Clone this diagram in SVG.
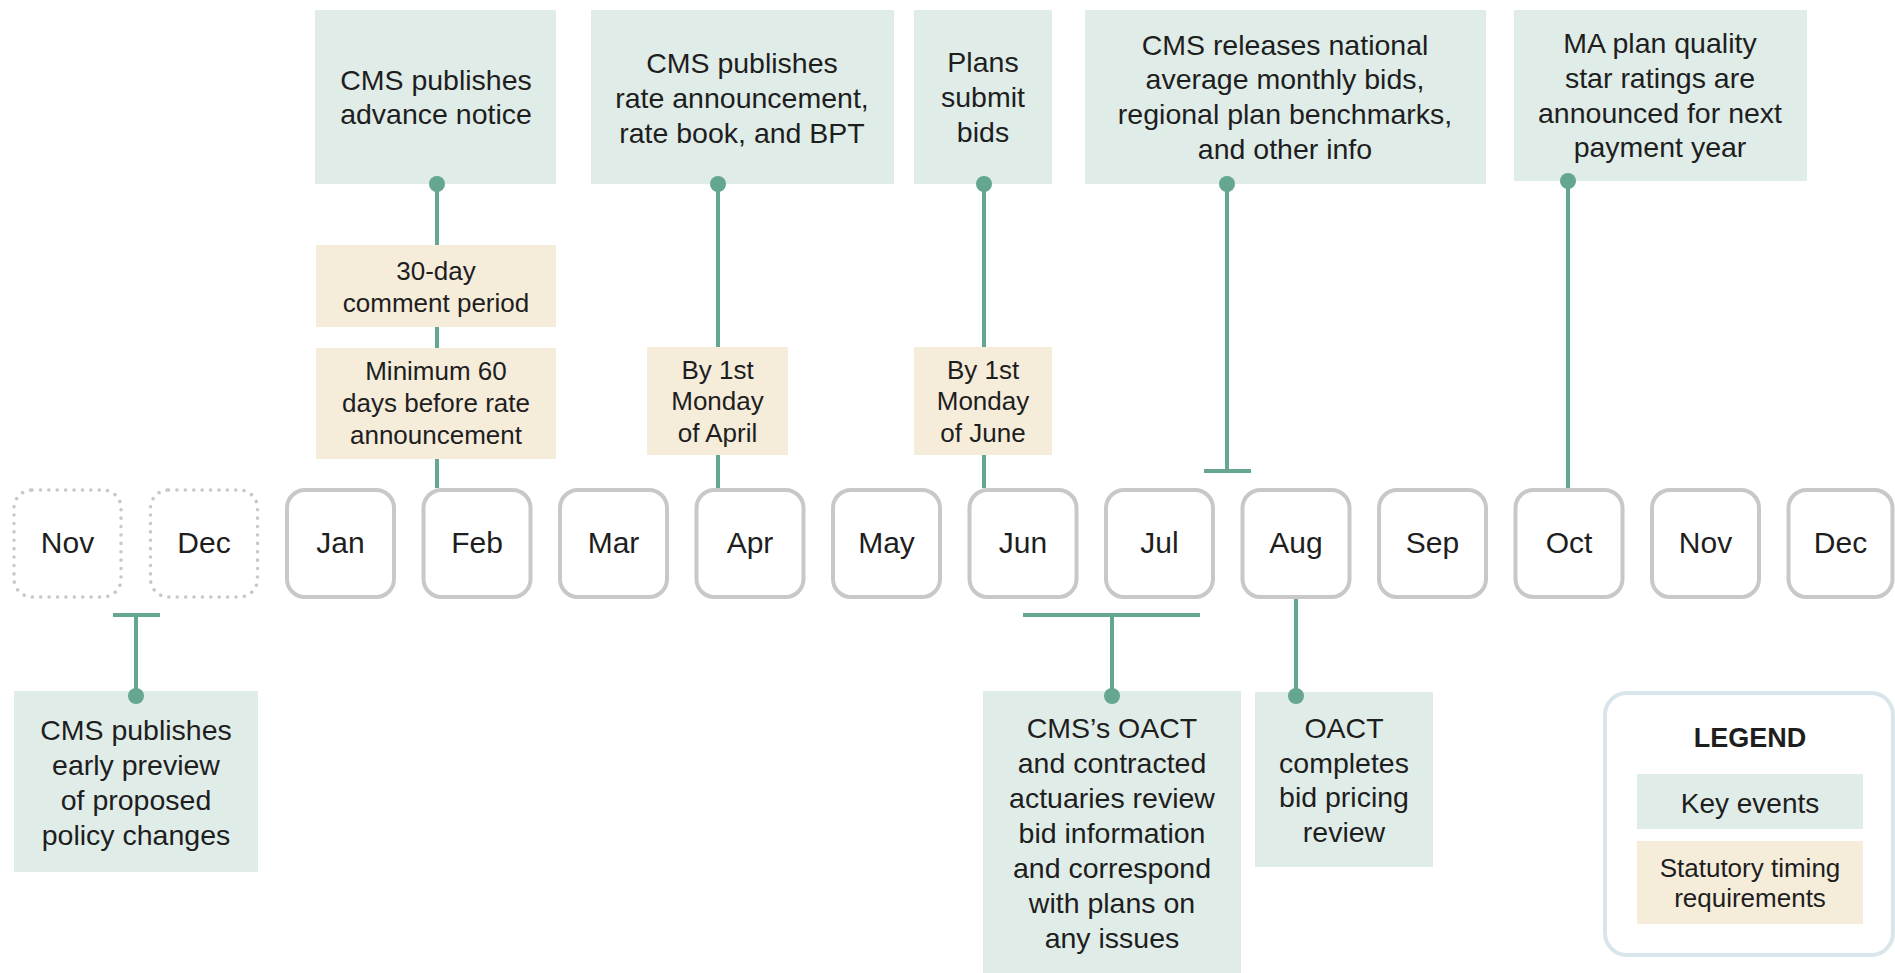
<svg xmlns="http://www.w3.org/2000/svg" width="1895" height="973" viewBox="0 0 1895 973">
<style>
text{font-family:"Liberation Sans",Arial,sans-serif;fill:#1e1e1e;text-anchor:middle}
.key{fill:#e0ece7}
.tan{fill:#f5ecda}
.kt{font-size:28.5px}
.tt{font-size:26px}
.mo{fill:#fff;stroke:#c8c8c8;stroke-width:4}
.mp{fill:#fff;stroke:#c8c8c8;stroke-width:3.5;stroke-dasharray:0.1 8.3;stroke-linecap:round}
.mt{font-size:30px}
.ln{stroke:#64a690;stroke-width:4;fill:none}
.dot{fill:#64a690}
</style>
<rect width="1895" height="973" fill="#fff"/>

<g id="months">
<g id="m-nov-prev"><rect class="mp" x="14" y="490" width="107" height="107" rx="18"/><text class="mt" x="67.5" y="553">Nov</text></g>
<g id="m-dec-prev"><rect class="mp" x="150.5" y="490" width="107" height="107" rx="18"/><text class="mt" x="204" y="553">Dec</text></g>
<g id="m-jan"><rect class="mo" x="287" y="490" width="107" height="107" rx="18"/><text class="mt" x="340.5" y="553">Jan</text></g>
<g id="m-feb"><rect class="mo" x="423.5" y="490" width="107" height="107" rx="18"/><text class="mt" x="477" y="553">Feb</text></g>
<g id="m-mar"><rect class="mo" x="560" y="490" width="107" height="107" rx="18"/><text class="mt" x="613.5" y="553">Mar</text></g>
<g id="m-apr"><rect class="mo" x="696.5" y="490" width="107" height="107" rx="18"/><text class="mt" x="750" y="553">Apr</text></g>
<g id="m-may"><rect class="mo" x="833" y="490" width="107" height="107" rx="18"/><text class="mt" x="886.5" y="553">May</text></g>
<g id="m-jun"><rect class="mo" x="969.5" y="490" width="107" height="107" rx="18"/><text class="mt" x="1023" y="553">Jun</text></g>
<g id="m-jul"><rect class="mo" x="1106" y="490" width="107" height="107" rx="18"/><text class="mt" x="1159.5" y="553">Jul</text></g>
<g id="m-aug"><rect class="mo" x="1242.5" y="490" width="107" height="107" rx="18"/><text class="mt" x="1296" y="553">Aug</text></g>
<g id="m-sep"><rect class="mo" x="1379" y="490" width="107" height="107" rx="18"/><text class="mt" x="1432.5" y="553">Sep</text></g>
<g id="m-oct"><rect class="mo" x="1515.5" y="490" width="107" height="107" rx="18"/><text class="mt" x="1569" y="553">Oct</text></g>
<g id="m-nov"><rect class="mo" x="1652" y="490" width="107" height="107" rx="18"/><text class="mt" x="1705.5" y="553">Nov</text></g>
<g id="m-dec"><rect class="mo" x="1788.5" y="490" width="104" height="107" rx="18"/><text class="mt" x="1840.5" y="553">Dec</text></g>
</g>

<g id="ev-advance">
<rect class="key" x="315" y="10" width="241" height="174"/>
<text class="kt" x="436" y="90">CMS publishes</text>
<text class="kt" x="436" y="124">advance notice</text>
</g>
<g id="ev-rate">
<rect class="key" x="591" y="10" width="303" height="174"/>
<text class="kt" x="742" y="73">CMS publishes</text>
<text class="kt" x="742" y="108">rate announcement,</text>
<text class="kt" x="742" y="143">rate book, and BPT</text>
</g>
<g id="ev-bids">
<rect class="key" x="914" y="10" width="138" height="174"/>
<text class="kt" x="983" y="72">Plans</text>
<text class="kt" x="983" y="107">submit</text>
<text class="kt" x="983" y="142">bids</text>
</g>
<g id="ev-national">
<rect class="key" x="1085" y="10" width="401" height="174"/>
<text class="kt" x="1285" y="55">CMS releases national</text>
<text class="kt" x="1285" y="89">average  monthly bids,</text>
<text class="kt" x="1285" y="124">regional plan benchmarks,</text>
<text class="kt" x="1285" y="159">and other info</text>
</g>
<g id="ev-stars">
<rect class="key" x="1514" y="10" width="293" height="171"/>
<text class="kt" x="1660" y="53">MA plan quality</text>
<text class="kt" x="1660" y="88">star ratings are</text>
<text class="kt" x="1660" y="123">announced for next</text>
<text class="kt" x="1660" y="157">payment year</text>
</g>

<g id="req-comment">
<rect class="tan" x="316" y="245" width="240" height="82"/>
<text class="tt" x="436" y="280">30-day</text>
<text class="tt" x="436" y="312">comment period</text>
</g>
<g id="req-60days">
<rect class="tan" x="316" y="348" width="240" height="111"/>
<text class="tt" x="436" y="380">Minimum 60</text>
<text class="tt" x="436" y="412">days before rate</text>
<text class="tt" x="436" y="444">announcement</text>
</g>
<g id="req-april">
<rect class="tan" x="647" y="347" width="141" height="108"/>
<text class="tt" x="717.5" y="379">By 1st</text>
<text class="tt" x="717.5" y="410">Monday</text>
<text class="tt" x="717.5" y="442">of April</text>
</g>
<g id="req-june">
<rect class="tan" x="914" y="347" width="138" height="108"/>
<text class="tt" x="983" y="379">By 1st</text>
<text class="tt" x="983" y="410">Monday</text>
<text class="tt" x="983" y="442">of June</text>
</g>

<g id="ev-preview">
<rect class="key" x="14" y="691" width="244" height="181"/>
<text class="kt" x="136" y="740">CMS publishes</text>
<text class="kt" x="136" y="775">early preview</text>
<text class="kt" x="136" y="810">of proposed</text>
<text class="kt" x="136" y="845">policy changes</text>
</g>
<g id="ev-oact-review">
<rect class="key" x="983" y="691" width="258" height="282"/>
<text class="kt" x="1112" y="738">CMS’s OACT</text>
<text class="kt" x="1112" y="773">and contracted</text>
<text class="kt" x="1112" y="808">actuaries review</text>
<text class="kt" x="1112" y="843">bid information</text>
<text class="kt" x="1112" y="878">and correspond</text>
<text class="kt" x="1112" y="913">with plans on</text>
<text class="kt" x="1112" y="948">any issues</text>
</g>
<g id="ev-oact-complete">
<rect class="key" x="1255" y="692" width="178" height="175"/>
<text class="kt" x="1344" y="738">OACT</text>
<text class="kt" x="1344" y="773">completes</text>
<text class="kt" x="1344" y="807">bid pricing</text>
<text class="kt" x="1344" y="842">review</text>
</g>

<g id="legend">
<rect x="1605" y="693" width="288" height="262" rx="22" fill="#fff" stroke="#d8e5ea" stroke-width="4"/>
<text x="1750" y="747" font-size="27" font-weight="bold">LEGEND</text>
<rect class="key" x="1637" y="774" width="226" height="55"/>
<text x="1750" y="813" font-size="28">Key events</text>
<rect class="tan" x="1637" y="841" width="226" height="83"/>
<text class="tt" x="1750" y="877">Statutory timing</text>
<text class="tt" x="1750" y="907">requirements</text>
</g>

<g id="connectors">
<path class="ln" d="M437 184V245M437 327V348M437 459V488"/>
<circle class="dot" cx="437" cy="184" r="8"/>
<path class="ln" d="M718 184V347M718 455V488"/>
<circle class="dot" cx="718" cy="184" r="8"/>
<path class="ln" d="M984 184V347M984 455V488"/>
<circle class="dot" cx="984" cy="184" r="8"/>
<path class="ln" d="M1227 184V471M1204 471H1251"/>
<circle class="dot" cx="1227" cy="184" r="8"/>
<path class="ln" d="M1568 181V488"/>
<circle class="dot" cx="1568" cy="181" r="8"/>
<path class="ln" d="M113 615H160M136 615V696"/>
<circle class="dot" cx="136" cy="696" r="8"/>
<path class="ln" d="M1023 615H1200M1112 615V696"/>
<circle class="dot" cx="1112" cy="696" r="8"/>
<path class="ln" d="M1296 599V696"/>
<circle class="dot" cx="1296" cy="696" r="8"/>
</g>
</svg>
